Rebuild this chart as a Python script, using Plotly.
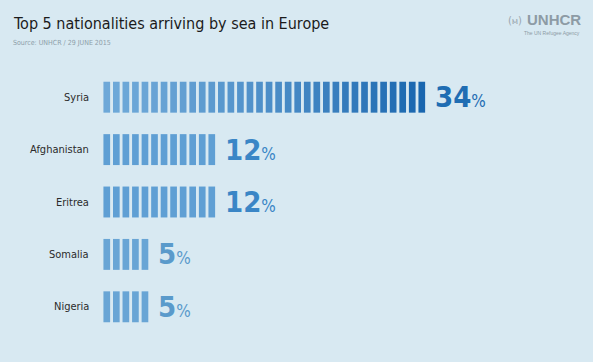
import plotly.graph_objects as go

countries = ["Syria", "Afghanistan", "Eritrea", "Somalia", "Nigeria"]
shares = [34, 12, 12, 5, 5]

title_text = "Top 5 nationalities arriving by sea in Europe"
source_text = "Source: UNHCR / 29 JUNE 2015"

BG = "#d8e9f2"
NARROW = "Liberation Sans Narrow, DejaVu Sans Condensed, Arial Narrow, sans-serif"
L_MARGIN, T_MARGIN, B_MARGIN = 102, 71, 29
UNIT_PX = 9.546

def lerp(c1, c2, t):
    return "rgb(%d,%d,%d)" % tuple(round(a + (b - a) * t) for a, b in zip(c1, c2))

row_colors = {
    "Syria": None,
    "Afghanistan": "#5f9fd4",
    "Eritrea": "#5f9fd4",
    "Somalia": "#69a5d5",
    "Nigeria": "#69a5d5",
}
value_colors = ["#1f6db3", "#3a86c6", "#3a86c6", "#5a9acb", "#5a9acb"]

fig = go.Figure()
for row, (name, v) in enumerate(zip(countries, shares)):
    xs = [i + 0.5 for i in range(v)]
    if row_colors[name] is None:
        light, dark = (110, 168, 216), (25, 102, 175)
        cols = [lerp(light, dark, (i / (v - 1)) ** 1.4) for i in range(v)]
    else:
        cols = [row_colors[name]] * v
    fig.add_trace(go.Bar(
        x=xs, y=[0.59] * v, base=[row - 0.295] * v, width=0.70,
        marker=dict(color=cols, line=dict(width=0)),
        hoverinfo="skip", showlegend=False,
    ))
    fig.add_annotation(
        x=0, y=row, xref="x", yref="y", text=name, showarrow=False,
        xanchor="right", yanchor="middle", xshift=-11,
        font=dict(family=NARROW, size=11, color="#2b2b2b"),
    )
    fig.add_annotation(
        x=v - 0.15, y=row, xref="x", yref="y",
        text="<b>%d</b><span style='font-size:17px'>%%</span>" % v,
        showarrow=False, xanchor="left", yanchor="middle", xshift=8, yshift=0,
        font=dict(family=NARROW, size=29, color=value_colors[row]),
    )

# title & source
fig.add_annotation(
    x=0, y=1, xref="paper", yref="paper", text=title_text, showarrow=False,
    xanchor="left", yanchor="middle", xshift=11 - L_MARGIN, yshift=T_MARGIN - 23,
    font=dict(family=NARROW, size=16, color="#1b1b1b"),
)
fig.add_annotation(
    x=0, y=1, xref="paper", yref="paper", text=source_text, showarrow=False,
    xanchor="left", yanchor="middle", xshift=11 - L_MARGIN, yshift=T_MARGIN - 43,
    font=dict(family=NARROW, size=7, color="#8d9ea8"),
)

# UNHCR logo text
fig.add_annotation(
    x=1, y=1, xref="paper", yref="paper", text="<b>UNHCR</b>", showarrow=False,
    xanchor="right", yanchor="middle", xshift=-10, yshift=T_MARGIN - 19,
    font=dict(family="Liberation Sans, Arial, sans-serif", size=15, color="#8d9ba5"),
)
fig.add_annotation(
    x=1, y=1, xref="paper", yref="paper", text="The UN Refugee Agency", showarrow=False,
    xanchor="right", yanchor="middle", xshift=-11, yshift=T_MARGIN - 32.5,
    font=dict(family="Liberation Sans, Arial, sans-serif", size=5, color="#8d9ba5"),
)
fig.add_annotation(
    x=1, y=1, xref="paper", yref="paper", text="(ⲙ)", showarrow=False,
    xanchor="right", yanchor="middle", xshift=-69, yshift=T_MARGIN - 20,
    font=dict(family="DejaVu Sans, sans-serif", size=10, color="#9aa7b0"),
)

plot_w = 593 - L_MARGIN
fig.update_layout(
    width=593, height=362,
    margin=dict(l=L_MARGIN, r=0, t=T_MARGIN, b=B_MARGIN),
    paper_bgcolor=BG, plot_bgcolor=BG,
    barmode="overlay",
    xaxis=dict(range=[0, plot_w / UNIT_PX], visible=False, fixedrange=True),
    yaxis=dict(range=[4.5, -0.5], visible=False, fixedrange=True),
)

fig.write_html(
    "out.html",
    config={"displayModeBar": False},
    post_script="document.body.style.margin='0';document.body.style.overflow='hidden';",
)
